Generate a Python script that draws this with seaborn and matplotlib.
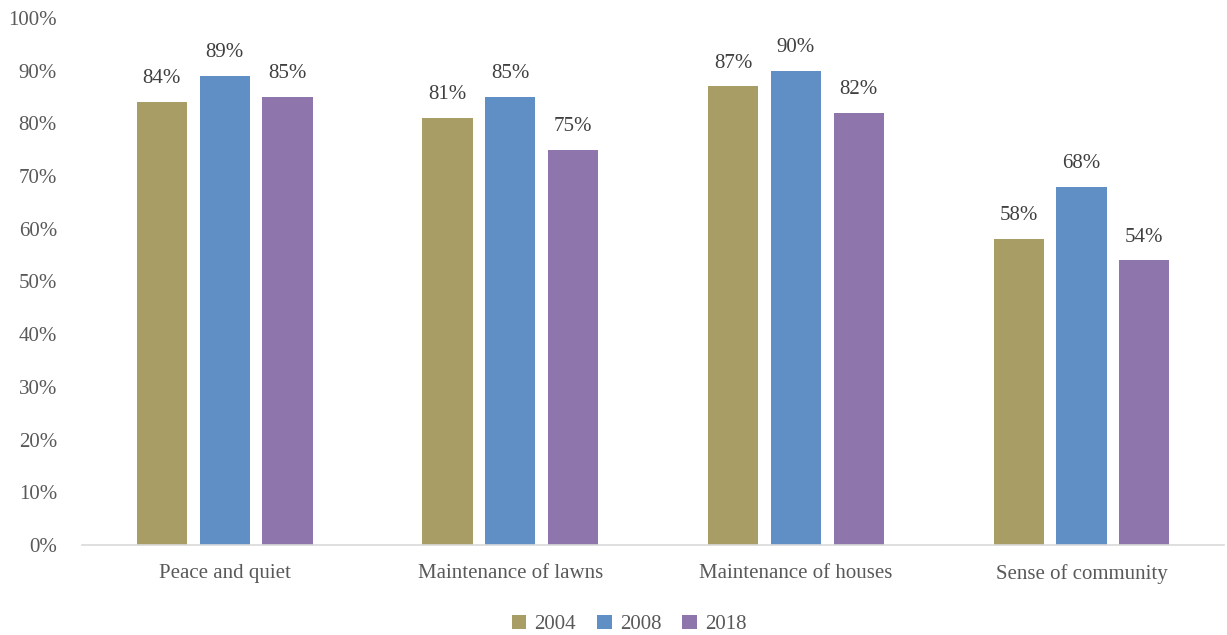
import matplotlib
matplotlib.use("Agg")
import matplotlib.pyplot as plt
import seaborn as sns
import pandas as pd

categories = ["Peace and quiet", "Maintenance of lawns", "Maintenance of houses", "Sense of community"]
years = ["2004", "2008", "2018"]
values_2004 = [84, 81, 87, 58]
values_2008 = [89, 85, 90, 68]
values_2018 = [85, 75, 82, 54]
yticks = [0, 10, 20, 30, 40, 50, 60, 70, 80, 90, 100]
palette = ["#A89D64", "#608FC6", "#8E76AC"]

rows = []
for year, vals in zip(years, [values_2004, values_2008, values_2018]):
    for cat, v in zip(categories, vals):
        rows.append({"category": cat, "year": year, "value": v})
df = pd.DataFrame(rows)

sns.set_theme(style="white")
plt.rcParams["font.family"] = ["Liberation Serif", "DejaVu Serif"]
text_color = "#595959"

fig = plt.figure(figsize=(12.27, 6.35), dpi=100)
ax = fig.add_axes([0.0668, 0.1417, 0.931, 0.830])

sns.barplot(data=df, x="category", y="value", hue="year", order=categories,
            hue_order=years, palette=palette, width=0.66, gap=0.2,
            saturation=1, ax=ax, legend=True, edgecolor="none")

for container in ax.containers:
    ax.bar_label(container, labels=[f"{v:.0f}%" for v in container.datavalues],
                 padding=10, fontsize=15, color="#404040")

ax.set_ylim(0, 100)
ax.set_xlim(-0.5, 3.5)
ax.set_yticks(yticks)
ax.set_yticklabels([f"{t}%" for t in yticks])
ax.tick_params(axis="both", length=0, labelsize=15, colors=text_color)
ax.tick_params(axis="y", pad=18)
ax.tick_params(axis="x", pad=14)
ax.set_xlabel("")
ax.set_ylabel("")
for side in ["top", "right", "left"]:
    ax.spines[side].set_visible(False)
ax.spines["bottom"].set_color("#D9D9D9")
ax.spines["bottom"].set_linewidth(1.2)

handles, labels = ax.get_legend_handles_labels()
ax.legend(handles, labels, loc="lower center", bbox_to_anchor=(0.479, -0.205),
          ncol=3, frameon=False, fontsize=15, handlelength=0.7, handleheight=0.7,
          handletextpad=0.4, columnspacing=1.0, labelcolor=text_color)

fig.savefig("out.png", dpi=100)
